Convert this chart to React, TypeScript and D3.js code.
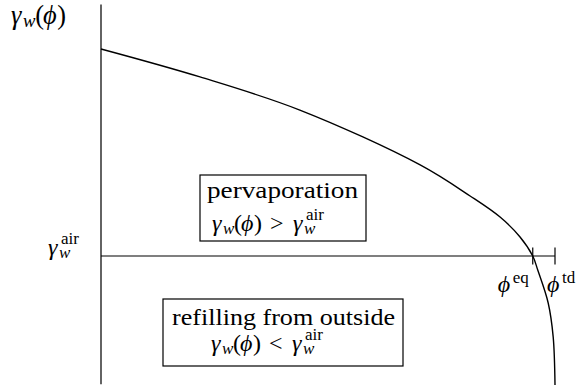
import React from "react";
import * as d3 from "d3";

// water potential curve gamma_w(phi) (gamma_air = 0, gamma_w(0) = 1)
const phiValues = [0, 0.218, 0.438, 0.703, 0.813, 0.879, 0.923, 0.951, 0.962, 0.985, 0.996, 1.0];
const gammaValues = [1.0, 0.865, 0.705, 0.44, 0.29, 0.188, 0.092, 0, -0.068, -0.227, -0.391, -0.623];

const phiEq = 0.951;
const phiTd = 1.0;
const gammaAir = 0;
const axisTop = 1.215;
const axisBottom = -0.62;

const width = 587;
const height = 388;
const font = '"Liberation Serif", "DejaVu Serif", serif';
const PHI = "\u03D5";

// gamma_w(phi) drawn glyph by glyph, like TeX math
function GammaW({ x, y, s = 1 }: { x: number; y: number; s?: number }) {
  return (
    <text y={y} style={{ fontSize: 24 * s }}>
      <tspan x={x} fontStyle="italic">γ</tspan>
      <tspan x={x + 11 * s} dy={3 * s} style={{ fontSize: 17 * s }} fontStyle="italic">w</tspan>
      <tspan x={x + 22 * s} dy={-3 * s}>(</tspan>
      <tspan x={x + 29 * s} fontStyle="italic">{PHI}</tspan>
      <tspan x={x + 42 * s}>)</tspan>
    </text>
  );
}

function GammaAir({ x, y }: { x: number; y: number }) {
  return (
    <g>
      <text x={x} y={y} fontStyle="italic">γ</text>
      <text x={x + 11} y={y + 3} style={{ fontSize: 17 }} fontStyle="italic">w</text>
      <text x={x + 13} y={y - 11} style={{ fontSize: 17 }}>air</text>
    </g>
  );
}

export default function App() {
  const x = d3.scaleLinear().domain([0, 1]).range([101, 555]);
  const y = d3.scaleLinear().domain([0, 1]).range([256, 49]);

  const pts = phiValues.map((p, i) => [p, gammaValues[i]] as [number, number]);
  const line = d3
    .line<[number, number]>()
    .x((d) => x(d[0]))
    .y((d) => y(d[1]))
    .curve(d3.curveCatmullRom.alpha(0.5));

  const tick = 8.5;

  return (
    <div style={{ position: "fixed", left: 0, top: 0 }}>
      <svg
        width={width}
        height={height}
        viewBox={`0 0 ${width} ${height}`}
        style={{ display: "block", background: "#fff", fontFamily: font, fontSize: 24 }}
      >
        <g fill="#000">
          {/* axis */}
          <line x1={x(0)} x2={x(0)} y1={y(axisTop)} y2={y(axisBottom)} stroke="#222" strokeWidth={1.4} />
          {/* gamma_air level */}
          <line x1={x(0)} x2={x(phiTd)} y1={y(gammaAir)} y2={y(gammaAir)} stroke="#000" strokeWidth={1.2} />
          {[phiEq, phiTd].map((p) => (
            <line key={p} x1={x(p)} x2={x(p)} y1={y(gammaAir) - tick} y2={y(gammaAir) + tick} stroke="#000" strokeWidth={1.2} />
          ))}
          <path d={line(pts) || ""} fill="none" stroke="#000" strokeWidth={1.4} />

          {/* axis labels */}
          <GammaW x={11} y={24} s={1.1} />
          <GammaAir x={48} y={255} />

          {/* phi labels */}
          <text x={x(phiEq) - 35} y={292} fontStyle="italic">{PHI}</text>
          <text x={x(phiEq) - 20} y={283} style={{ fontSize: 17 }}>eq</text>
          <text x={x(phiTd) - 8} y={292} fontStyle="italic">{PHI}</text>
          <text x={x(phiTd) + 7} y={283} style={{ fontSize: 17 }}>td</text>

          {/* pervaporation box */}
          <rect x={200} y={175} width={166} height={66} fill="#fff" stroke="#000" strokeWidth={1.2} />
          <text x={207} y={198} textLength={151} lengthAdjust="spacingAndGlyphs">pervaporation</text>
          <GammaW x={212} y={231} />
          <text x={270} y={231}>&gt;</text>
          <GammaAir x={293} y={231} />

          {/* refilling box */}
          <rect x={163} y={299} width={240} height={67} fill="#fff" stroke="#000" strokeWidth={1.2} />
          <text x={172} y={325} textLength={223} lengthAdjust="spacingAndGlyphs">refilling from outside</text>
          <GammaW x={211} y={351} />
          <text x={269} y={351}>&lt;</text>
          <GammaAir x={292} y={351} />
        </g>
      </svg>
    </div>
  );
}
